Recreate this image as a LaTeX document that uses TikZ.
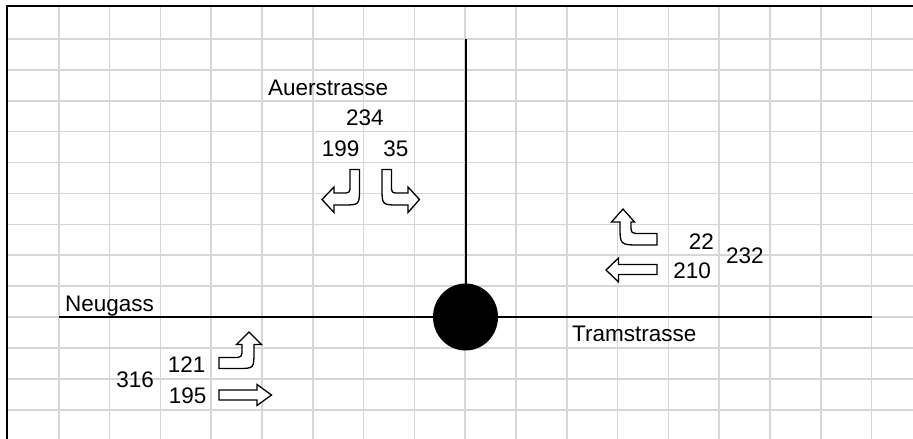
\documentclass[tikz,border=0pt]{standalone}
\usepackage{fontspec}
\setmainfont{Liberation Sans}
\begin{document}
\begin{tikzpicture}[x=1pt,y=-1pt,
  lbl/.style={inner sep=0pt,font=\fontsize{22.5}{27}\selectfont},
  gridln/.style={draw={rgb,255:red,214;green,214;blue,214},line width=1.6pt},
  road/.style={draw=black,line width=2pt},
  blockarrow/.style={draw=black,fill=white,line width=1.3pt,line join=miter}]
\useasboundingbox (0,0) rectangle (913,439);
\fill[white] (0,0) rectangle (913,439);
% grid
\foreach \k in {1,...,17} {\draw[gridln] ({8+50.8*\k},7) -- ({8+50.8*\k},439);}
\foreach \k in {1,...,13} {\draw[gridln] (7,{8+30.9*\k}) -- (913,{8+30.9*\k});}
% border
\draw[black,line width=2.2pt] (6.7,439) -- (6.7,6) -- (913,6);
% roads
\coordinate (nstart) at (59,317);
\coordinate (nend) at (872,317);
\coordinate (vtop) at (465.8,39);
\coordinate (vbot) at (465.8,317);
\draw[road] (nstart) -- (nend);
\draw[road] (vtop) -- (vbot);
\fill[black] (465.5,317) ellipse [x radius=32.5, y radius=33.5];
% labels
\node[lbl,anchor=base west] (auer) at (268,95) {Auerstrasse};
\node[lbl,anchor=base west] (n234) at (346,125) {234};
\node[lbl,anchor=base east] (n199) at (359.5,156) {199};
\node[lbl,anchor=base east] (n35) at (408.5,156) {35};
\node[lbl,anchor=base east] (n22) at (714,249.3) {22};
\node[lbl,anchor=base east] (n210) at (711,278.3) {210};
\node[lbl,anchor=base west] (n232) at (726,263.3) {232};
\node[lbl,anchor=base west] (neu) at (65,311.7) {Neugass};
\node[lbl,anchor=base east] (n316) at (154,387.3) {316};
\node[lbl,anchor=base east] (n121) at (205.5,372.3) {121};
\node[lbl,anchor=base east] (n195) at (206.5,403.3) {195};
\node[lbl,anchor=base west] (tram) at (572,341.7) {Tramstrasse};
% arrows: Auerstrasse
\draw[blockarrow] (350,169.5) -- (359.5,169.5) -- (359.5,188)
  .. controls (359.5,205) .. (343,205) -- (334,205) -- (334,212.5)
  -- (322,199.5) -- (334,187) -- (334,193) -- (342,193)
  .. controls (350,193) .. (350,185) -- cycle;
\draw[blockarrow] (382,169.5) -- (391.5,169.5) -- (391.5,185)
  .. controls (391.5,193) .. (399,193) -- (408,193) -- (408,187)
  -- (419.5,199.5) -- (408,212.5) -- (408,205) -- (399,205)
  .. controls (382,205) .. (382,188) -- cycle;
% arrows: Tramstrasse
\draw[blockarrow] (657,233.5) -- (641,233.5)
  .. controls (631,233.5) .. (631,225) -- (631,222) -- (634.5,222)
  -- (623,209) -- (611.5,222) -- (620,222) -- (620,226)
  .. controls (620,245) .. (641,245) -- (657,245) -- cycle;
\draw[blockarrow] (657,264.5) -- (618.5,264.5) -- (618.5,258)
  -- (606,270) -- (618.5,282) -- (618.5,274.5) -- (657,274.5) -- cycle;
% arrows: Neugass
\draw[blockarrow] (219,357.5) -- (233,357.5)
  .. controls (242,357.5) .. (242,348) -- (242,344.5) -- (236.5,344.5)
  -- (249,332) -- (261.5,344.5) -- (254,344.5) -- (254,351)
  .. controls (254,368.5) .. (238,368.5) -- (219,368.5) -- cycle;
\draw[blockarrow] (219,390) -- (257,390) -- (257,384.5)
  -- (271.5,395) -- (257,405.5) -- (257,400) -- (219,400) -- cycle;
\end{tikzpicture}
\end{document}
